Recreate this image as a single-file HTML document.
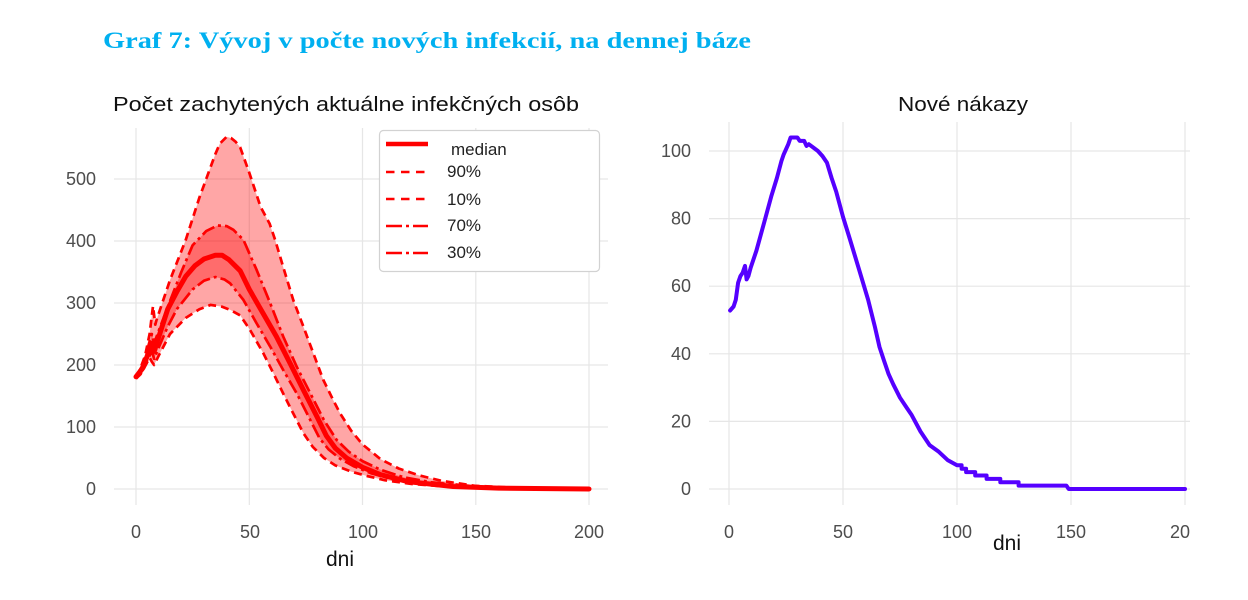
<!DOCTYPE html>
<html><head><meta charset="utf-8"><style>
html,body{margin:0;padding:0;background:#fff;}
svg{display:block;}
</style></head><body>
<svg width="1248" height="600" viewBox="0 0 1248 600" xmlns="http://www.w3.org/2000/svg">
<rect width="1248" height="600" fill="#fff"/>
<text x="103" y="48" font-family="Liberation Serif, serif" font-weight="bold" font-size="23" fill="#00B0F0" textLength="648" lengthAdjust="spacingAndGlyphs">Graf 7: Vývoj v počte nových infekcií, na dennej báze</text>

<!-- LEFT CHART -->
<text x="113" y="111" font-family="Liberation Sans, sans-serif" font-size="20" fill="#111" textLength="466" lengthAdjust="spacingAndGlyphs">Počet zachytených aktuálne infekčných osôb</text>
<g stroke="#e6e6e6" stroke-width="1.2">
<line x1="114" y1="489" x2="608" y2="489"/><line x1="114" y1="427" x2="608" y2="427"/>
<line x1="114" y1="365" x2="608" y2="365"/><line x1="114" y1="303" x2="608" y2="303"/>
<line x1="114" y1="241" x2="608" y2="241"/><line x1="114" y1="179" x2="608" y2="179"/>
<line x1="136" y1="128" x2="136" y2="505"/><line x1="249.3" y1="128" x2="249.3" y2="505"/>
<line x1="362.5" y1="128" x2="362.5" y2="505"/><line x1="475.8" y1="128" x2="475.8" y2="505"/>
<line x1="589" y1="128" x2="589" y2="505"/>
</g>
<g font-family="Liberation Sans, sans-serif" font-size="18" fill="#4d4d4d" text-anchor="end">
<text x="96" y="495">0</text><text x="96" y="433">100</text><text x="96" y="371">200</text>
<text x="96" y="309">300</text><text x="96" y="247">400</text><text x="96" y="185">500</text>
</g>
<g font-family="Liberation Sans, sans-serif" font-size="18" fill="#4d4d4d" text-anchor="middle">
<text x="136" y="538">0</text><text x="250" y="538">50</text><text x="363" y="538">100</text>
<text x="476" y="538">150</text><text x="589" y="538">200</text>
</g>
<text x="340" y="566" font-family="Liberation Sans, sans-serif" font-size="21" fill="#111" text-anchor="middle">dni</text>

<!-- bands -->
<polygon fill="#ff0000" fill-opacity="0.35" points="136,377.4 140.5,368.1 145.1,355.7 149.6,334 153,306.1 155.3,324.7 156.4,320.4 170,280.1 185.8,239.8 199.4,197.6 215.3,154.2 219.8,143.7 226.6,136.8 231.1,138.1 235.7,141.8 240.2,147.4 249.3,172.8 260.6,206.9 269.6,223.6 275.1,239.8 283.2,267 293.2,299.9 303.4,326.6 313.3,353.2 323.3,379.9 333.3,400.3 340.1,413.4 351.2,430.7 362.5,444.4 380.6,459.2 398.7,468.5 419.1,475.4 441.8,480.9 475.8,485.9 532.4,488.4 589,489 589,489 509.7,488.4 453.1,487.1 412.3,484 385.2,480.3 367,476 351.2,471.6 335.3,465.4 324,458 312.7,446.8 303.4,433.2 293.2,413.4 283.2,393.5 273.3,373.1 263.3,353.2 249.9,329.7 240.2,315.4 230,309.8 222.1,306.7 210.7,304.9 199.4,309.2 185.8,317.9 170,334 158.7,355.7 154.1,365 151.9,361.9 149.6,357.6 145.1,366.2 140.5,374.3 136,378.6"/>
<polygon fill="#ff0000" fill-opacity="0.35" points="136,376.2 142.8,365 147.3,349.5 151.9,334 154.1,343.3 158.7,330.9 170,301.1 181.3,272 192.6,245.3 206.2,231.1 217.5,225.5 226.6,226.1 233.4,229.8 243.4,239.8 256.7,270.1 270.1,303 283.2,336.5 296.8,366.9 310.4,393.5 324,420.2 336.7,440 348.9,451.8 362.5,461.1 380.6,469.8 403.3,477.2 430.5,482.2 475.8,486.5 532.4,488.4 589,489 589,489 521.1,488.4 464.4,487.1 425.9,484 394.2,479.7 371.6,473.5 353.4,466.1 339.9,458.6 328.5,449.3 319.5,438.2 310.4,420.2 296.8,393.5 283.2,370 270.1,346.4 256.7,323.5 243.4,299.9 230,283.2 224.3,279.4 215.3,277 204,280.7 192.6,289.4 176.8,309.2 167.7,326.6 158.7,347.6 154.1,358.8 151.9,351.4 147.3,360 142.8,370 136,377.4"/>

<g fill="none" stroke="#ff0000" stroke-linejoin="round" stroke-linecap="butt">
<polyline stroke-width="2.7" stroke-dasharray="8,5" points="136,377.4 140.5,368.1 145.1,355.7 149.6,334 153,306.1 155.3,324.7 156.4,320.4 170,280.1 185.8,239.8 199.4,197.6 215.3,154.2 219.8,143.7 226.6,136.8 231.1,138.1 235.7,141.8 240.2,147.4 249.3,172.8 260.6,206.9 269.6,223.6 275.1,239.8 283.2,267 293.2,299.9 303.4,326.6 313.3,353.2 323.3,379.9 333.3,400.3 340.1,413.4 351.2,430.7 362.5,444.4 380.6,459.2 398.7,468.5 419.1,475.4 441.8,480.9 475.8,485.9 532.4,488.4 589,489"/>
<polyline stroke-width="2.7" stroke-dasharray="8,5" points="136,378.6 140.5,374.3 145.1,366.2 149.6,357.6 151.9,361.9 154.1,365 158.7,355.7 170,334 185.8,317.9 199.4,309.2 210.7,304.9 222.1,306.7 230,309.8 240.2,315.4 249.9,329.7 263.3,353.2 273.3,373.1 283.2,393.5 293.2,413.4 303.4,433.2 312.7,446.8 324,458 335.3,465.4 351.2,471.6 367,476 385.2,480.3 412.3,484 453.1,487.1 509.7,488.4 589,489"/>
<polyline stroke-width="2.7" stroke-dasharray="14,4,3,4" points="136,376.2 142.8,365 147.3,349.5 151.9,334 154.1,343.3 158.7,330.9 170,301.1 181.3,272 192.6,245.3 206.2,231.1 217.5,225.5 226.6,226.1 233.4,229.8 243.4,239.8 256.7,270.1 270.1,303 283.2,336.5 296.8,366.9 310.4,393.5 324,420.2 336.7,440 348.9,451.8 362.5,461.1 380.6,469.8 403.3,477.2 430.5,482.2 475.8,486.5 532.4,488.4 589,489"/>
<polyline stroke-width="2.7" stroke-dasharray="14,4,3,4" points="136,377.4 142.8,370 147.3,360 151.9,351.4 154.1,358.8 158.7,347.6 167.7,326.6 176.8,309.2 192.6,289.4 204,280.7 215.3,277 224.3,279.4 230,283.2 243.4,299.9 256.7,323.5 270.1,346.4 283.2,370 296.8,393.5 310.4,420.2 319.5,438.2 328.5,449.3 339.9,458.6 353.4,466.1 371.6,473.5 394.2,479.7 425.9,484 464.4,487.1 521.1,488.4 589,489"/>
<polyline stroke-width="5" stroke-linecap="round" points="136,376.8 142.8,368.1 147.3,355.7 151.9,343.3 154.1,351.4 158.7,337.1 167.7,309.2 176.8,291.8 185.8,276.3 194.9,265.8 204,259 215.3,255.3 222.1,255.3 228.9,259.6 240.2,270.8 249.3,289.4 262.8,312.9 276.4,336.5 290,363.1 303.6,390.4 317.2,417.1 326.3,435.7 335.3,448.1 346.6,458 362.5,467.3 380.6,474.7 407.8,481.6 453.1,486.5 498.4,488.1 589,489"/>
</g>

<!-- legend -->
<rect x="379.5" y="130.5" width="220" height="141" rx="4" fill="#fff" stroke="#d2d2d2" stroke-width="1.2"/>
<g fill="none" stroke="#ff0000">
<line x1="386" y1="144" x2="428" y2="144" stroke-width="4.5"/>
<line x1="386" y1="172" x2="428" y2="172" stroke-width="2.5" stroke-dasharray="8.5,6.5"/>
<line x1="386" y1="199" x2="428" y2="199" stroke-width="2.5" stroke-dasharray="8.5,6.5"/>
<line x1="386" y1="226" x2="428" y2="226" stroke-width="2.5" stroke-dasharray="16,4,3,4"/>
<line x1="386" y1="253" x2="428" y2="253" stroke-width="2.5" stroke-dasharray="16,4,3,4"/>
</g>
<g font-family="Liberation Sans, sans-serif" font-size="17" fill="#222">
<text x="451" y="155">median</text>
<text x="447" y="177">90%</text>
<text x="447" y="205">10%</text>
<text x="447" y="231">70%</text>
<text x="447" y="258">30%</text>
</g>

<!-- RIGHT CHART -->
<text x="963" y="111" font-family="Liberation Sans, sans-serif" font-size="20" fill="#111" text-anchor="middle" textLength="130" lengthAdjust="spacingAndGlyphs">Nové nákazy</text>
<g stroke="#e6e6e6" stroke-width="1.2">
<line x1="709" y1="489" x2="1190" y2="489"/><line x1="709" y1="421.4" x2="1190" y2="421.4"/>
<line x1="709" y1="353.8" x2="1190" y2="353.8"/><line x1="709" y1="286.2" x2="1190" y2="286.2"/>
<line x1="709" y1="218.6" x2="1190" y2="218.6"/><line x1="709" y1="151" x2="1190" y2="151"/>
<line x1="729" y1="122" x2="729" y2="505"/><line x1="843" y1="122" x2="843" y2="505"/>
<line x1="957" y1="122" x2="957" y2="505"/><line x1="1071" y1="122" x2="1071" y2="505"/>
<line x1="1185" y1="122" x2="1185" y2="505"/>
</g>
<g font-family="Liberation Sans, sans-serif" font-size="18" fill="#4d4d4d" text-anchor="end">
<text x="691" y="495">0</text><text x="691" y="427.4">20</text><text x="691" y="359.8">40</text>
<text x="691" y="292.2">60</text><text x="691" y="224.6">80</text><text x="691" y="157">100</text>
</g>
<g font-family="Liberation Sans, sans-serif" font-size="18" fill="#4d4d4d" text-anchor="middle">
<text x="729" y="538">0</text><text x="843" y="538">50</text><text x="957" y="538">100</text>
<text x="1071" y="538">150</text>
</g>
<text x="1170" y="538" font-family="Liberation Sans, sans-serif" font-size="18" fill="#4d4d4d">20</text>
<text x="1007" y="550" font-family="Liberation Sans, sans-serif" font-size="21" fill="#111" text-anchor="middle">dni</text>

<polyline fill="none" stroke="#5500ff" stroke-width="4" stroke-linejoin="round" stroke-linecap="round" points="730.1,310.5 733.6,306.5 735.8,299.7 738.1,282.8 740.4,276.1 742.7,272.7 745,265.9 746.6,279.4 748.4,276.1 750.7,267.6 756.4,250.7 764.3,222 771.2,196.6 776.9,178 781.4,161.1 783.7,154.4 786,149.3 788.3,144.2 790.6,137.5 797.4,137.5 799.7,140.9 804.2,140.9 806.5,145.9 808.8,144.2 813.4,147.6 817.9,151 822.5,156.1 827,162.8 831.6,178 836.2,191.6 843,216.9 849.8,238.9 859,269.3 868.1,299.7 874.9,326.8 879.5,347 884,360.6 888.6,374.1 893.2,384.2 900,397.7 906.8,407.9 911.4,414.6 920.5,431.5 929.6,445.1 938.8,451.8 947.9,460.3 957,465.3 961.6,465.3 961.6,468.7 966.1,468.7 966.1,472.1 975.2,472.1 975.2,475.5 986.6,475.5 986.6,478.9 1000.3,478.9 1000.3,482.2 1018.6,482.2 1018.6,485.6 1066.4,485.6 1068.7,489 1185,489"/>
</svg>
</body></html>
